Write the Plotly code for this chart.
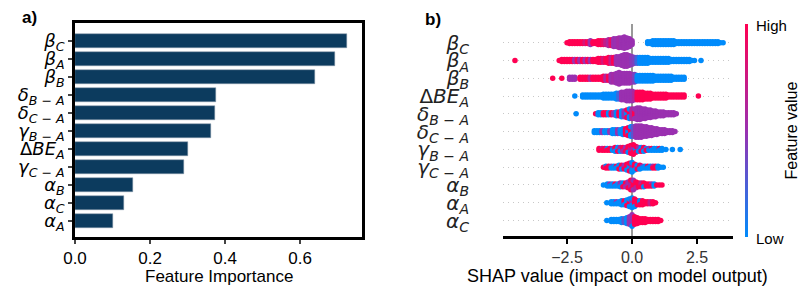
import plotly.graph_objects as go

W, H = 806, 290

# ---------------- panel a data ----------------
labels_a = ["<i>β<sub>C</sub></i>", "<i>β<sub>A</sub></i>", "<i>β<sub>B</sub></i>",
            "<i>δ<sub>B − A</sub></i>", "<i>δ<sub>C − A</sub></i>", "<i>γ<sub>B − A</sub></i>",
            "Δ<i>BE<sub>A</sub></i>", "<i>γ<sub>C − A</sub></i>", "<i>α<sub>B</sub></i>",
            "<i>α<sub>C</sub></i>", "<i>α<sub>A</sub></i>"]
importance = [0.725, 0.693, 0.640, 0.375, 0.373, 0.362, 0.302, 0.290, 0.154, 0.130, 0.100]
ticks_a = [0.0, 0.2, 0.4, 0.6]
ticktext_a = ["0.0", "0.2", "0.4", "0.6"]

# ---------------- panel b data ----------------
labels_b = ["<i>β<sub>C</sub></i>", "<i>β<sub>A</sub></i>", "<i>β<sub>B</sub></i>",
            "Δ<i>BE<sub>A</sub></i>", "<i>δ<sub>B − A</sub></i>", "<i>δ<sub>C − A</sub></i>",
            "<i>γ<sub>B − A</sub></i>", "<i>γ<sub>C − A</sub></i>", "<i>α<sub>B</sub></i>",
            "<i>α<sub>A</sub></i>", "<i>α<sub>C</sub></i>"]
ticks_b = [-2.5, 0.0, 2.5]
ticktext_b = ["−2.5", "0.0", "2.5"]

# each row: (SHAP value, number of stacked dots, feature value 0=low..1=high)
row_bC = [(-2.5,1,1),(-2.4,2,1),(-2.3,2,1),(-2.2,2,1),(-2.1,2,1),(-2.0,2,1),(-1.9,2,1),(-1.8,2,.8),
          (-1.7,2,1),(-1.6,3,.5),(-1.5,2,1),(-1.4,2,1),(-1.3,3,1),(-1.2,3,1),(-1.1,3,.9),(-1.0,3,.7),
          (-0.9,4,.6),(-0.8,4,.9),(-0.7,5,.5),(-0.6,5,.5),(-0.5,6,.55),(-0.4,6,.5),(-0.3,7,.5),
          (-0.2,6,.5),(-0.1,5,.5),(0.0,3,.5),
          (0.6,2,0),(0.7,2,0),(0.8,3,0),(0.9,3,0),(1.0,3,0),(1.1,3,0),(1.2,3,0),(1.3,3,0),(1.4,3,0),
          (1.5,3,0),(1.6,3,0),(1.7,2,0),(1.8,2,0),(1.9,2,0),(2.0,2,0),(2.1,2,0),(2.2,2,0),(2.3,2,0),
          (2.4,2,0),(2.5,2,0),(2.6,2,0),(2.7,2,0),(2.8,2,0),(2.9,2,0),(3.0,2,0),(3.1,2,0),(3.2,2,0),
          (3.3,2,0),(3.4,1,0),(3.5,1,0)]
row_bA = [(-4.5,1,1),
          (-2.8,1,1),(-2.7,2,1),(-2.6,2,1),(-2.5,2,1),(-2.4,2,1),(-2.3,2,1),(-2.2,2,.5),(-2.1,2,1),
          (-2.0,2,.5),(-1.9,2,1),(-1.8,2,.5),(-1.7,2,1),(-1.6,2,.5),(-1.5,2,1),(-1.4,2,1),(-1.3,3,1),
          (-1.2,3,1),(-1.1,3,.8),(-1.0,3,1),(-0.9,4,1),(-0.8,4,.7),(-0.7,4,1),(-0.6,5,.5),(-0.5,5,.5),
          (-0.4,6,.5),(-0.3,7,.5),(-0.2,7,.5),(-0.1,6,.5),(0.0,5,.45),(0.1,4,.4),(0.2,4,.2),
          (0.3,4,0),(0.4,4,0),(0.5,4,0),(0.6,4,0),(0.7,3,0),(0.8,3,0),(0.9,3,0),(1.0,3,0),(1.1,3,0),
          (1.2,3,0),(1.3,3,0),(1.4,3,0),(1.5,2,0),(1.6,2,0),(1.7,2,0),(1.8,2,0),(1.9,2,0),(2.0,2,0),
          (2.1,2,0),(2.2,2,0),(2.3,1,0),(2.4,1,0),(2.65,1,0)]
row_bB = [(-3.05,1,1),(-2.7,1,1),(-2.4,2,.5),(-2.3,2,.5),(-2.2,2,.5),(-2.0,2,1),(-1.9,2,1),(-1.8,2,1),
          (-1.7,2,1),(-1.6,2,.6),(-1.5,2,1),(-1.4,2,1),(-1.3,2,1),(-1.2,2,1),(-1.1,3,1),(-1.0,3,.6),
          (-0.9,3,1),(-0.8,5,.5),(-0.7,5,.55),(-0.6,6,.5),(-0.5,7,.5),(-0.4,6,.5),(-0.3,6,.5),
          (-0.2,6,.5),(-0.1,6,.5),(0.0,5,.5),(0.1,5,.4),
          (0.2,4,0),(0.3,4,0),(0.4,4,0),(0.5,4,0),(0.6,4,0),(0.7,4,0),(0.8,4,0),(0.9,3,0),(1.0,3,0),
          (1.1,3,0),(1.2,3,0),(1.3,3,0),(1.4,3,0),(1.5,3,0),(1.6,2,0),(1.7,2,0),(1.8,2,0),(1.9,2,0),
          (2.0,2,0)]
row_dBE = [(-2.2,1,0),(-1.9,2,0),(-1.8,2,0),(-1.7,2,0),(-1.6,2,0),(-1.5,2,0),(-1.4,2,0),(-1.3,2,0),
           (-1.2,2,0),(-1.1,3,0),(-1.0,3,0),(-0.9,3,0),(-0.8,3,0),(-0.7,3,0),(-0.6,4,0),(-0.5,4,.2),
           (-0.4,5,.5),(-0.3,5,.5),(-0.2,6,.5),(-0.1,6,.5),(0.0,6,.5),(0.1,5,.6),
           (0.2,5,1),(0.3,5,1),(0.4,5,1),(0.5,4,1),(0.6,4,1),(0.7,4,1),(0.8,3,1),(0.9,3,1),(1.0,3,1),
           (1.1,3,1),(1.2,3,1),(1.3,3,1),(1.4,2,1),(1.5,2,1),(1.6,2,1),(1.7,2,1),(1.8,2,1),(1.9,2,1),
           (2.0,2,1),(2.55,1,1)]
row_dBA = [(-2.15,1,0),(-1.4,1,1),(-1.3,2,0),(-1.2,2,0),(-1.1,2,1),(-1.0,2,1),(-0.9,2,0),(-0.8,2,1),
           (-0.7,2,.5),(-0.6,3,0),(-0.5,3,1),(-0.4,4,0),(-0.3,4,.5),(-0.2,3,0),(-0.2,2,1),
           (-0.1,3,1),(-0.1,3,0),(0.0,6,.6),(0.1,4,1),(0.1,2,.5),
           (0.2,7,.5),(0.3,7,.5),(0.4,6,.5),(0.5,6,.5),(0.6,5,.5),(0.7,5,.5),(0.8,4,.5),(0.9,4,.5),
           (1.0,3,.5),(1.1,3,.5),(1.2,3,.5),(1.3,2,.5),(1.4,2,.5),(1.5,2,.5),(1.6,2,.5),(1.7,1,.5)]
row_dCA = [(-1.45,2,0),(-1.35,2,0),(-1.25,2,0),(-1.15,2,.5),(-1.05,2,0),(-0.95,2,0),(-0.85,2,.5),
           (-0.75,3,0),(-0.65,3,0),(-0.55,3,.5),(-0.45,3,0),(-0.35,4,0),(-0.25,4,1),(-0.15,3,0),
           (-0.15,2,1),(-0.05,3,1),(-0.05,3,0),(0.05,6,.3),
           (0.15,7,.5),(0.25,7,.5),(0.35,7,.5),(0.45,6,.5),(0.55,6,.5),(0.65,5,.5),(0.75,5,.5),
           (0.85,4,.5),(0.95,4,.5),(1.05,3,.5),(1.15,3,.5),(1.25,3,.5),(1.35,2,.5),(1.45,2,.5),
           (1.55,2,.5),(1.65,1,.5)]
row_gBA = [(-1.27,2,1),(-1.15,1,.7),(-1.15,1,1),(-1.05,2,1),(-0.95,1,0),(-0.95,1,1),(-0.85,2,1),
           (-0.75,1,.5),(-0.75,1,0),(-0.65,2,1),(-0.65,1,0),(-0.55,2,0),(-0.55,1,1),(-0.45,2,.7),
           (-0.45,1,0),(-0.35,2,1),(-0.35,1,.5),(-0.25,2,.5),(-0.25,1,1),(-0.15,3,1),(-0.15,1,0),
           (-0.05,3,.6),(-0.05,2,1),(0.05,3,.5),(0.05,3,1),(0.15,2,0),(0.15,2,1),(0.25,2,.6),
           (0.25,1,0),(0.35,2,0),(0.35,1,1),(0.45,2,1),(0.45,1,0),(0.55,1,0),(0.55,1,1),
           (0.65,1,.5),(0.65,1,0),(0.75,1,1),(0.75,1,0),(0.85,2,0),(0.95,2,0),(1.05,1,1),
           (1.05,1,0),(1.15,2,0),(1.3,1,0),(1.55,1,0),(1.85,1,0)]
row_gCA = [(-1.1,1,1),(-1.0,1,0),(-1.0,1,1),(-0.9,2,1),(-0.8,1,.5),(-0.8,1,0),(-0.7,2,0),
           (-0.6,1,1),(-0.6,1,0),(-0.5,2,0),(-0.5,1,1),(-0.4,2,1),(-0.4,1,0),(-0.3,2,.5),
           (-0.3,1,1),(-0.2,3,1),(-0.2,1,0),(-0.1,3,0),(-0.1,2,1),(0.0,3,.6),(0.0,3,0),
           (0.1,3,1),(0.1,1,0),(0.2,2,0),(0.2,1,1),(0.3,2,1),(0.3,1,0),(0.4,1,.5),(0.4,1,0),
           (0.5,2,0),(0.6,1,1),(0.6,1,0),(0.7,2,0),(0.8,1,.5),(0.8,1,1),(0.9,2,1),(1.0,2,0),
           (1.1,1,0),(1.2,1,0)]
row_aB = [(-1.1,1,0),(-0.95,2,0),(-0.85,1,.5),(-0.85,1,0),(-0.75,2,0),(-0.65,1,1),(-0.65,1,0),
          (-0.55,2,0),(-0.45,2,.5),(-0.45,1,0),(-0.35,2,0),(-0.35,1,1),(-0.25,2,1),(-0.25,1,.5),
          (-0.15,3,.5),(-0.15,1,1),(-0.05,4,.6),(-0.05,2,1),(0.05,4,1),(0.05,2,.5),(0.15,3,1),
          (0.15,1,.6),(0.25,3,1),(0.35,2,.7),(0.35,1,1),(0.45,2,1),(0.45,1,0),(0.55,2,1),
          (0.65,2,1),(0.75,1,.5),(0.75,1,1),(0.85,2,0),(0.95,1,1),(1.05,1,1),(1.15,1,1)]
row_aA = [(-0.97,1,0),(-0.8,2,0),(-0.7,2,0),(-0.6,1,.5),(-0.6,1,0),(-0.5,2,0),(-0.4,3,0),
          (-0.3,2,1),(-0.3,1,0),(-0.2,3,0),(-0.2,1,1),(-0.1,3,1),(-0.1,2,0),(0.0,3,.5),(0.0,3,0),
          (0.1,4,1),(0.1,1,0),(0.2,3,1),(0.3,2,0),(0.3,1,1),(0.4,3,1),(0.5,2,1),(0.6,2,1),
          (0.7,2,.7),(0.8,2,1),(0.9,1,1)]
row_aC = [(-0.97,1,0),(-0.8,2,0),(-0.7,2,0),(-0.6,2,0),(-0.5,2,0),(-0.4,3,0),(-0.3,3,.3),(-0.2,4,0),
          (-0.1,5,.5),(0.0,6,.5),(0.0,1,0),(0.1,5,1),(0.2,4,1),(0.3,3,1),(0.4,3,1),(0.5,3,1),(0.6,2,1),
          (0.7,2,1),(0.8,2,1),(0.9,2,1),(1.0,2,1),(1.1,1,1)]

rows_b = [row_bC, row_bA, row_bB, row_dBE, row_dBA, row_dCA, row_gBA, row_gCA, row_aB, row_aA, row_aC]

# ---------------- geometry (pixels) ----------------
A_L, A_R, A_T, A_B = 67, 354, 15, 229
B_L, B_R, B_T, B_B = 495, 725, 16, 228
PX_PER_ROW = (B_B - B_T) / 11.92
DOT_STEP = 1.9  # px vertical spacing of stacked dots


def px(x):
    return x / W


def py(y):
    return 1 - y / H


def swarm(idx, cols):
    groups = {}
    order = []
    for x, n, c in cols:
        if x not in groups:
            groups[x] = []
            order.append(x)
        groups[x].extend([c] * n)
    xs, ys, cs = [], [], []
    for x in order:
        colors = groups[x]
        n = len(colors)
        offs = sorted([(k - (n - 1) / 2) for k in range(n)], key=lambda o: (abs(o), o))
        for o, c in zip(offs, colors):
            xs.append(x)
            ys.append(idx + o * DOT_STEP / PX_PER_ROW)
            cs.append(c)
    return xs, ys, cs


sx, sy, sc = [], [], []
for i, r in enumerate(rows_b):
    a, b, c = swarm(i, r)
    sx += a
    sy += b
    sc += c

fig = go.Figure()
fig.add_trace(go.Bar(
    x=importance, y=list(range(len(importance))), orientation="h", width=0.78,
    marker=dict(color="#0c3b5e", line=dict(color="#8798a8", width=0.5)),
    xaxis="x", yaxis="y", showlegend=False, hoverinfo="skip"))

fig.add_trace(go.Scatter(
    x=sx, y=sy, mode="markers", xaxis="x2", yaxis="y2", showlegend=False,
    marker=dict(size=5.5, color=sc, cmin=0, cmax=1,
                colorscale=[[0, "#008bfb"], [0.5, "#9a30b0"], [1, "#ff0052"]],
                line=dict(width=0), showscale=True,
                colorbar=dict(thickness=3, thicknessmode="pixels", len=B_B - B_T + 1,
                              lenmode="pixels", x=px(737), xanchor="left", y=py(B_T),
                              yanchor="top", outlinewidth=0, showticklabels=False,
                              ticks="", xpad=0, ypad=0)),
    hoverinfo="skip"))

FONT = "Liberation Sans, Arial, sans-serif"
MATH = "DejaVu Sans, sans-serif"

fig.update_layout(
    width=W, height=H, margin=dict(l=0, r=0, t=0, b=0, autoexpand=False),
    paper_bgcolor="white", plot_bgcolor="white",
    font=dict(family=FONT, color="black"),
    bargap=0,
    xaxis=dict(domain=[px(A_L), px(A_R)], range=[0, 0.765], anchor="y",
               tickvals=ticks_a, ticktext=ticktext_a, ticks="outside", ticklen=4, tickwidth=1.5,
               showline=True, mirror=True, linewidth=2.5, linecolor="black",
               showgrid=False, zeroline=False, tickfont=dict(size=17, color="black")),
    yaxis=dict(domain=[py(A_B), py(A_T)], range=[10.9, -1.0], anchor="x",
               tickvals=list(range(len(labels_a))), ticktext=labels_a,
               ticks="outside", ticklen=4, tickwidth=1.5,
               showline=True, mirror=True, linewidth=2.5, linecolor="black",
               showgrid=False, zeroline=False, tickfont=dict(family=MATH, size=18, color="black")),
    xaxis2=dict(domain=[px(B_L), px(B_R)], range=[-4.96, 3.88], anchor="y2",
                tickvals=ticks_b, ticktext=ticktext_b, ticks="outside", ticklen=5, tickwidth=1.5,
                tickcolor="black", showline=True, linewidth=2.5, linecolor="black",
                showgrid=False, zeroline=True, zerolinecolor="#999999", zerolinewidth=1.5,
                tickfont=dict(size=16, color="#333333")),
    yaxis2=dict(domain=[py(B_B), py(B_T)], range=[10.87, -1.05], anchor="x2",
                tickvals=list(range(len(labels_b))), ticktext=labels_b,
                ticks="outside", ticklen=29, tickcolor="rgba(0,0,0,0)",
                showline=False, showgrid=True, griddash="1px,4px", gridcolor="#c8c8c8", gridwidth=1,
                zeroline=False, tickfont=dict(family=MATH, size=20, color="#222222")),
)

ann = [
    dict(text="<b>a)</b>", x=px(12), y=py(10), xanchor="left", yanchor="middle", font=dict(size=17)),
    dict(text="<b>b)</b>", x=px(415), y=py(12), xanchor="left", yanchor="middle", font=dict(size=17)),
    dict(text="Feature Importance", x=px(210.5), y=py(268), xanchor="center", yanchor="middle",
         font=dict(size=17)),
    dict(text="SHAP value (impact on model output)", x=px(609), y=py(268), xanchor="center",
         yanchor="middle", font=dict(size=18)),
    dict(text="High", x=px(746), y=py(17), xanchor="left", yanchor="middle", font=dict(size=15)),
    dict(text="Low", x=px(746), y=py(230), xanchor="left", yanchor="middle", font=dict(size=15)),
    dict(text="Feature value", x=px(783), y=py(122.5), xanchor="center", yanchor="middle",
         textangle=-90, font=dict(size=16)),
]
for a in ann:
    a.update(xref="paper", yref="paper", showarrow=False)
fig.update_layout(annotations=ann)

fig.write_html("out.html")
